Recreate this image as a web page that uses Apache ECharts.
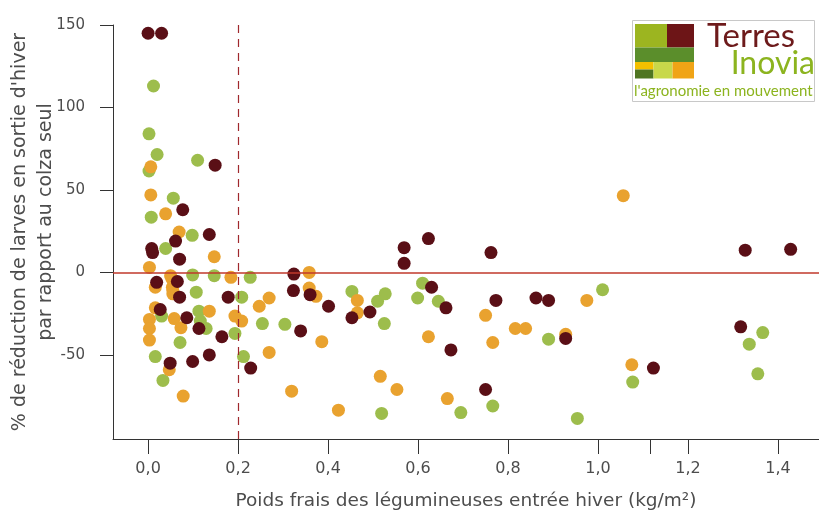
<!DOCTYPE html>
<html>
<head>
<meta charset="utf-8">
<script src="https://cdn.jsdelivr.net/npm/echarts@6/dist/echarts.min.js"></script>
<style>
html,body{margin:0;padding:0;background:#fff;}
#chart{width:819px;height:516px;}
</style>
</head>
<body>
<div id="chart"></div>
<script>
// ---- Data ----
const xTicks = [0, 0.2, 0.4, 0.6, 0.8, 1.0, 1.115, 1.2, 1.4];
const xLabelTicks = [0, 0.2, 0.4, 0.6, 0.8, 1.0, 1.2, 1.4];
const yTicks = [-50, 0, 50, 100, 150];
const seuilX = 0.2;

const pointsVert = [
  [0.012,113],[0.002,84],[0.02,71.5],[0.002,61.5],[0.11,68],[0.056,45],[0.007,33.5],[0.098,22.5],
  [0.039,14.5],[0.099,-1.5],[0.147,-2],[0.227,-3],[0.107,-12],[0.208,-15],[0.03,-26.5],[0.113,-23.5],
  [0.116,-29.5],[0.129,-34],[0.254,-31],[0.193,-37],[0.071,-42.5],[0.016,-51],[0.212,-51],[0.033,-65.5],
  [0.304,-31.5],[0.453,-11.5],[0.51,-17.5],[0.527,-13],[0.525,-31],[0.61,-6.5],[0.599,-15.5],[0.645,-17.5],
  [0.519,-85.5],[0.695,-85],[1.01,-10.5],[0.89,-40.5],[1.077,-66.5],[0.766,-81],[0.954,-88.5],
  [1.366,-36.5],[1.336,-43.5],[1.355,-61.5]
];
const pointsOrange = [
  [0.006,64],[0.006,47],[0.039,35.5],[0.069,24.5],[0.147,9.5],[0.003,3],[0.05,-2],[0.053,-4],[0.184,-3],
  [0.016,-9],[0.054,-9],[0.055,-11],[0.055,-13],[0.269,-15.5],[0.247,-20.5],[0.016,-21.5],[0.136,-23.5],
  [0.058,-28],[0.003,-28.5],[0.003,-34],[0.073,-33.5],[0.193,-26.5],[0.208,-29.5],[0.003,-41],[0.047,-59],
  [0.269,-48.5],[0.078,-75],[0.358,0],[0.358,-9.5],[0.373,-14.5],[0.386,-42],[0.465,-17],[0.465,-24.5],
  [0.623,-39],[0.516,-63],[0.553,-71],[0.319,-72],[0.423,-83.5],[0.665,-76.5],
  [1.056,46.5],[0.975,-17],[0.75,-26],[0.816,-34],[0.839,-34],[0.766,-42.5],[0.928,-37.5],[1.075,-56]
];
const pointsBordeaux = [
  [0.0,145],[0.03,145],[0.149,65],[0.077,38],[0.136,23],[0.061,19],[0.008,14.5],[0.01,12],[0.07,8],
  [0.019,-6],[0.065,-5.5],[0.07,-15],[0.178,-15],[0.027,-22.5],[0.086,-27.5],[0.113,-34],[0.164,-39],
  [0.049,-55],[0.099,-54],[0.136,-50],[0.228,-58],[0.324,-1],[0.323,-11],[0.36,-13.5],[0.401,-20.5],
  [0.339,-35.5],[0.453,-27.5],[0.493,-24],[0.569,15],[0.569,5.5],[0.623,20.5],[0.63,-9],[0.662,-21.5],
  [0.673,-47],[0.762,12],[0.773,-17],[0.862,-15.5],[0.89,-17],[0.928,-40],[1.123,-58],[0.75,-71],
  [1.327,13.5],[1.428,14],[1.317,-33]
];

const FONT = 'DejaVu Sans';
const TXT = '#4d4d4d';
const chart = echarts.init(document.getElementById('chart'), null, {renderer: 'canvas'});

function fmt(v){ return v.toFixed(1).replace('.', ','); }

chart.setOption({
  animation: false,
  backgroundColor: '#fff',
  grid: {left: 113, right: 0, top: 25, bottom: 69, containLabel: false},
  xAxis: {
    type: 'value', min: -0.078, max: 1.491,
    name: 'Poids frais des légumineuses entrée hiver (kg/m²)',
    nameLocation: 'middle', nameGap: 53,
    nameTextStyle: {fontFamily: FONT, fontSize: 18.5, color: TXT},
    axisLine: {show: true, onZero: false, lineStyle: {color: '#333', width: 1}},
    axisTick: {show: true, length: 15, customValues: xTicks, lineStyle: {color: '#333', width: 1}},
    axisLabel: {customValues: xLabelTicks, margin: 22, fontFamily: FONT, fontSize: 16, color: TXT, formatter: fmt},
    splitLine: {show: false}
  },
  yAxis: {
    type: 'value', min: -101, max: 150,
    axisLine: {show: true, onZero: false, lineStyle: {color: '#333', width: 1}},
    axisTick: {show: true, length: 13, customValues: yTicks, lineStyle: {color: '#333', width: 1}},
    axisLabel: {customValues: yTicks, margin: 28, fontFamily: FONT, fontSize: 15, color: TXT},
    splitLine: {show: false}
  },
  graphic: [
    {type: 'text', x: 20, y: 232, rotation: Math.PI/2,
     style: {text: "% de réduction de larves en sortie d'hiver", fontFamily: FONT, fontSize: 19, fill: TXT, align: 'center', verticalAlign: 'middle'}},
    {type: 'text', x: 46, y: 222, rotation: Math.PI/2,
     style: {text: 'par rapport au colza seul', fontFamily: FONT, fontSize: 19, fill: TXT, align: 'center', verticalAlign: 'middle'}},
    // logo
    {type: 'group', children: [
      {type: 'rect', shape: {x: 632.5, y: 20.5, width: 182, height: 81}, style: {fill: '#fff', stroke: '#c8c8c8', lineWidth: 1}},
      {type: 'rect', shape: {x: 635, y: 24, width: 32, height: 23.5}, style: {fill: '#9cb520'}},
      {type: 'rect', shape: {x: 667, y: 24, width: 27, height: 23.5}, style: {fill: '#6d1517'}},
      {type: 'rect', shape: {x: 635, y: 47.5, width: 59, height: 14.5}, style: {fill: '#5b8e2b'}},
      {type: 'rect', shape: {x: 635, y: 62, width: 18.5, height: 7.5}, style: {fill: '#f4c000'}},
      {type: 'rect', shape: {x: 635, y: 69.5, width: 18.5, height: 9}, style: {fill: '#4f7521'}},
      {type: 'rect', shape: {x: 653.5, y: 62, width: 19, height: 16.5}, style: {fill: '#c8d84a'}},
      {type: 'rect', shape: {x: 672.5, y: 62, width: 21.5, height: 16.5}, style: {fill: '#f0a416'}},
      {type: 'text', x: 707, y: 36, style: {text: 'Terres', fontFamily: 'Lato', fontSize: 33, fill: '#6d1a1b', align: 'left', verticalAlign: 'middle'}},
      {type: 'text', x: 815, y: 64, style: {text: 'Inovia', fontFamily: 'Lato', fontSize: 32, fill: '#8cb41f', align: 'right', verticalAlign: 'middle'}},
      {type: 'text', x: 634, y: 91, style: {text: "l'agronomie en mouvement", fontFamily: 'Lato', fontSize: 15, fill: '#8cb41f', align: 'left', verticalAlign: 'middle'}}
    ]}
  ],
  series: [
    {type: 'scatter', name: 'Vert', data: pointsVert, symbolSize: 13, clip: false,
     itemStyle: {color: '#9dbd4c', opacity: 1},
     markLine: {silent: true, symbol: 'none', label: {show: false},
       lineStyle: {color: '#c0392b', width: 1.6, type: 'solid'},
       data: [{yAxis: 0}]}},
    {type: 'scatter', name: 'Orange', data: pointsOrange, symbolSize: 13, clip: false,
     itemStyle: {color: '#e9a22f', opacity: 1}},
    {type: 'scatter', name: 'Bordeaux', data: pointsBordeaux, symbolSize: 13, clip: false,
     itemStyle: {color: '#5a0f16', opacity: 1},
     markLine: {silent: true, symbol: 'none', label: {show: false},
       lineStyle: {color: '#a0282d', width: 1.2, type: [8, 6]},
       data: [{xAxis: seuilX}]}}
  ]
});
</script>
</body>
</html>
